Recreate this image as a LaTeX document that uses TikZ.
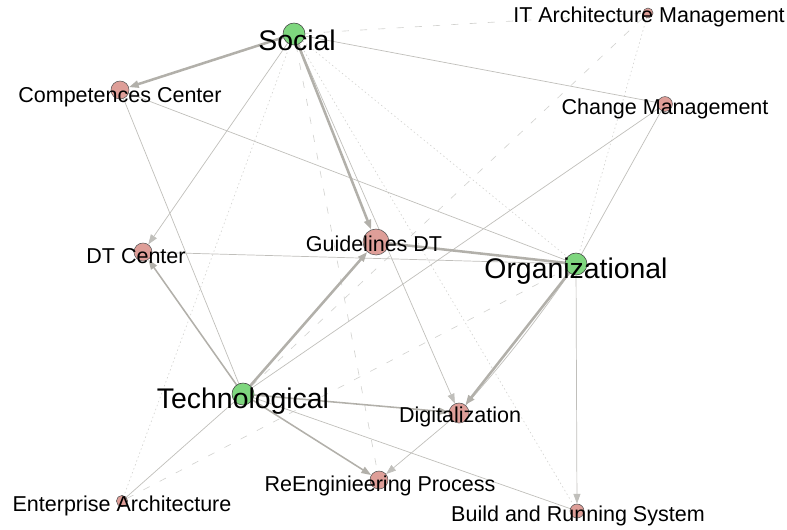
\documentclass[tikz,border=0pt]{standalone}
\usepackage{fontspec}
\setmainfont{Liberation Sans}
\usetikzlibrary{arrows.meta,backgrounds}
\definecolor{edgegray}{RGB}{178,176,170}
\definecolor{thingray}{RGB}{192,191,187}
\definecolor{lightgray}{RGB}{210,210,207}
\definecolor{groupgreen}{RGB}{126,214,126}
\definecolor{itempink}{RGB}{222,158,152}
\tikzset{
  group/.style={circle,draw=black!75,fill=groupgreen,inner sep=0pt,minimum size=#1},
  item/.style={circle,draw=black!65,fill=itempink,inner sep=0pt,minimum size=#1},
  biglabel/.style={inner sep=0pt,font=\fontsize{20.2}{22}\selectfont},
  smalllabel/.style={inner sep=0pt,font=\fontsize{15.3}{17}\selectfont},
  link/.style={draw=thingray,line width=0.5pt},
  medlink/.style={draw=edgegray,line width=1.1pt},
  heavylink/.style={draw=edgegray,line width=1.8pt},
  dashlink/.style={draw=lightgray,line width=0.45pt,dash pattern=on 5pt off 8pt},
  dotlink/.style={draw=lightgray,line width=0.45pt,dash pattern=on 1pt off 2pt},
  tip/.style={-{Triangle[length=7pt,width=5pt]}}
}
\begin{document}
\begin{tikzpicture}[x=0.025cm,y=-0.025cm]
  \useasboundingbox (0,0) rectangle (787,529);
  % groups
  \node[group=0.55cm] (social) at(294,34){};
  \node[group=0.55cm] (org) at(576,264){};
  \node[group=0.55cm] (tech) at(243,394){};
  % items
  \node[item=0.45cm] (cc) at(120,90){};
  \node[item=0.25cm] (ita) at(648,13){};
  \node[item=0.37cm] (cm) at(665,104){};
  \node[item=0.45cm] (dtc) at(143,252){};
  \node[item=0.65cm] (gdt) at(376,242){};
  \node[item=0.50cm] (dig) at(459,413){};
  \node[item=0.45cm] (rep) at(379,480){};
  \node[item=0.28cm] (ea) at(122,501){};
  \node[item=0.35cm] (brs) at(577,511){};
  % labels
  \node[biglabel] (social-l) at(297,40){Social};
  \node[biglabel] (org-l) at(576,271){Organizational};
  \node[biglabel] (tech-l) at(243,401){Technological};
  \node[smalllabel] (cc-l) at(120,97){Competences Center};
  \node[smalllabel] (ita-l) at(649,17){IT Architecture Management};
  \node[smalllabel] (cm-l) at(665,109){Change Management};
  \node[smalllabel] (dtc-l) at(136,256){DT Center};
  \node[smalllabel] (gdt-l) at(374,244){Guidelines DT};
  \node[smalllabel] (dig-l) at(460,417){Digitalization};
  \node[smalllabel] (rep-l) at(380,486){ReEnginieering Process};
  \node[smalllabel] (ea-l) at(122,506){Enterprise Architecture};
  \node[smalllabel] (brs-l) at(578,516){Build and Running System};
  \begin{scope}[on background layer]
    % faint ties
    \draw[dotlink] (social) -- (ea);
    \draw[dotlink] (social) -- (org);
    \draw[dotlink] (social) -- (brs);
    \draw[dotlink] (ita) -- (org);
    \draw[dashlink] (social) -- (ita);
    \draw[dashlink] (tech) -- (ita);
    \draw[dashlink] (ea) -- (org);
    \draw[dashlink] (social) -- (rep);
    % thin ties
    \draw[link] (social) -- (cm);
    \draw[link] (cc) -- (tech);
    \draw[link] (cc) -- (org);
    \draw[link] (dtc) -- (org);
    \draw[link] (cm) -- (org);
    \draw[link] (cm) -- (tech);
    \draw[link] (tech) -- (ea);
    \draw[link] (tech) -- (brs);
    \draw[link] (org) to[bend left=3] (dig);
    \draw[link,tip] (social) -- (dtc);
    \draw[link,tip] (social) -- (dig);
    \draw[link,tip] (dig) -- (rep);
    \draw[link,tip] (org) -- (brs);
    % medium ties
    \draw[medlink,tip] (tech) -- (dtc);
    \draw[medlink,tip] (tech) -- (dig);
    \draw[medlink,tip] (tech) -- (rep);
    % heavy ties
    \draw[heavylink,tip] (social) -- (cc);
    \draw[heavylink,tip] (social) -- (gdt);
    \draw[heavylink,tip] (tech) -- (gdt);
    \draw[heavylink,tip] (org) -- (dig);
    \draw[heavylink] (gdt) -- (org);
  \end{scope}
\end{tikzpicture}
\end{document}
